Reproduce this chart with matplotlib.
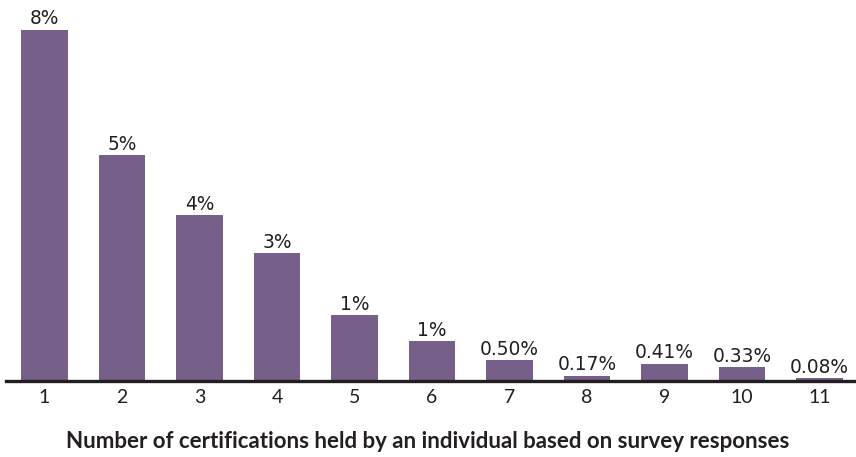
import matplotlib
matplotlib.use("Agg")
import matplotlib.pyplot as plt

# Data (bar heights in %, labels as printed)
categories = ["1", "2", "3", "4", "5", "6", "7", "8", "9", "10", "11"]
values = [8.36, 5.38, 3.95, 3.05, 1.57, 0.95, 0.50, 0.13, 0.41, 0.33, 0.07]
bar_labels = ["8%", "5%", "4%", "3%", "1%", "1%", "0.50%", "0.17%",
              "0.41%", "0.33%", "0.08%"]

BAR_COLOR = "#76608a"
TEXT_COLOR = "#231f20"

fig = plt.figure(figsize=(8.56, 4.57), dpi=100)
ax = fig.add_axes([6 / 856, 76 / 457, 850 / 856, 381 / 457])

x = list(range(len(categories)))
bars = ax.bar(x, values, width=0.6, color=BAR_COLOR, zorder=2)

for bar, lab in zip(bars, bar_labels):
    ax.annotate(lab, (bar.get_x() + bar.get_width() / 2, bar.get_height()),
                xytext=(0, 1), textcoords="offset points",
                ha="center", va="bottom", fontsize=13.4,
                family="DejaVu Sans", color=TEXT_COLOR)

ax.set_xlim(-0.497, 10.47)
ax.set_ylim(0, 381 / 42)

for side in ["top", "right", "left"]:
    ax.spines[side].set_visible(False)
ax.spines["bottom"].set_linewidth(2.4)
ax.spines["bottom"].set_color(TEXT_COLOR)
ax.spines["bottom"].set_zorder(3)

ax.set_yticks([])
ax.set_xticks(x)
ax.set_xticklabels(categories, fontsize=14, family="Lato", color=TEXT_COLOR)
ax.tick_params(axis="x", length=0, pad=6)

fig.text(0.5, 1 - 441 / 457, "Number of certifications held by an individual based on survey responses",
         ha="center", va="center", fontsize=16, fontweight="bold",
         family="Lato", color=TEXT_COLOR)

fig.savefig("out.png", dpi=100)
